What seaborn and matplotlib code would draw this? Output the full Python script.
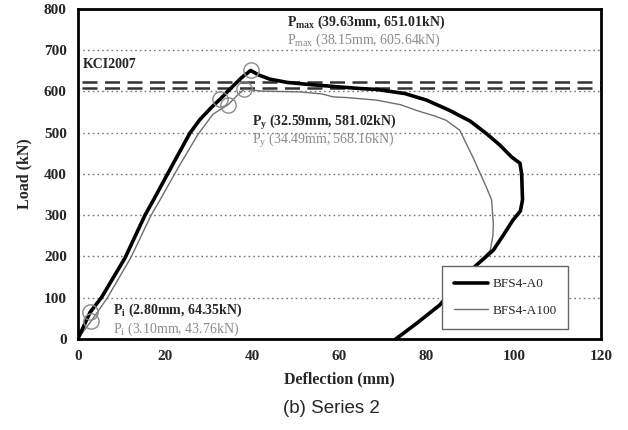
import pandas as pd
import matplotlib
matplotlib.use("Agg")
import matplotlib.pyplot as plt
import seaborn as sns

# load-deflection curve, BFS4-A0
a0_defl = [0, 2.8, 5.4, 10.8, 15.4, 17.3, 21.5, 25.7, 28, 30.5, 32.59, 35, 37.5, 39.63, 41.5,
           44, 48, 53, 60, 65, 68.5, 75, 80, 85.3, 90, 93.7, 96.8, 99.5, 101.4, 101.8, 102,
           101.5, 99.8, 97.5, 95.3, 90.7, 86.5, 83, 78, 73]
a0_load = [0, 64.35, 100, 196, 300, 336, 418, 499, 532, 560, 581.02, 607, 633, 651.01, 640,
           630, 622, 617, 611, 607, 605, 595, 579, 554, 528, 498, 470, 441, 426, 400, 337,
           310, 288, 250, 215, 172, 125, 82, 40, 0]

# load-deflection curve, BFS4-A100
a100_defl = [0, 3.1, 6.8, 12.2, 16.8, 18.8, 23, 27.5, 31, 34.49, 36.5, 38.15, 42, 50.9, 56,
             58.5, 62, 68.5, 74, 77.7, 82, 84.5, 87.6, 90.6, 93.7, 94.9, 95.3, 95.2, 94.9,
             94.6, 90.7, 86.5, 83, 78, 72.5]
a100_load = [0, 43.76, 100, 198, 300, 336, 415, 495, 545, 568.16, 590, 605.64, 601, 599, 594,
             587, 585, 579, 568, 554, 540, 530, 506, 441, 368, 337, 280, 250, 232, 215, 170,
             123, 80, 38, 0]

# key points: (defl, load)
pmax = {"BFS4-A0": (39.63, 651.01), "BFS4-A100": (38.15, 605.64)}
py = {"BFS4-A0": (32.59, 581.02), "BFS4-A100": (34.49, 568.16)}
pi = {"BFS4-A0": (2.80, 64.35), "BFS4-A100": (3.10, 43.76)}
kci_lines = [623, 609]

df = pd.concat([
    pd.DataFrame({"Deflection": a0_defl, "Load": a0_load, "Specimen": "BFS4-A0"}),
    pd.DataFrame({"Deflection": a100_defl, "Load": a100_load, "Specimen": "BFS4-A100"}),
])

sns.set_style("white")
plt.rcParams["font.family"] = ["Liberation Serif", "DejaVu Serif"]
plt.rcParams["mathtext.fontset"] = "custom"
plt.rcParams["mathtext.rm"] = "Liberation Serif:bold"

fig = plt.figure(figsize=(6.28, 4.30), dpi=100)
ax = fig.add_axes([0.124, 0.212, 0.833, 0.767])

for y in range(100, 800, 100):
    ax.axhline(y, color="#777777", lw=1, ls=(0, (1.2, 2.2)), zorder=0)

for y in kci_lines:
    ax.plot([1, 120], [y, y], color="#333333", lw=1.8, ls=(0, (6, 3)), zorder=1)

# gray first so the black curve sits on top
sns.lineplot(data=df[df.Specimen == "BFS4-A100"], x="Deflection", y="Load", sort=False,
             estimator=None, color="#6e6e6e", lw=1.0, ax=ax, label="BFS4-A100", zorder=2)
sns.lineplot(data=df[df.Specimen == "BFS4-A0"], x="Deflection", y="Load", sort=False,
             estimator=None, color="black", lw=2.6, ax=ax, label="BFS4-A0", zorder=3)

for pts in (pmax, py, pi):
    for name, (x, y) in pts.items():
        ax.plot(x, y, "o", ms=11, mfc="none", mec="#8a8a8a", mew=1.0, zorder=4)

ax.text(1.2, 665, "KCI2007", fontsize=10, fontweight="bold", va="center")
gray_txt = "#8a8a8a"
ax.text(48, 767, r"P$_{\mathregular{max}}$ (39.63mm, 651.01kN)", fontsize=10, fontweight="bold", va="center")
ax.text(48, 724, r"P$_{\mathregular{max}}$ (38.15mm, 605.64kN)", fontsize=10, color=gray_txt, va="center")
ax.text(40, 525, r"P$_{\mathregular{y}}$ (32.59mm, 581.02kN)", fontsize=10, fontweight="bold", va="center")
ax.text(40, 482, r"P$_{\mathregular{y}}$ (34.49mm, 568.16kN)", fontsize=10, color=gray_txt, va="center")
ax.text(8, 68, r"P$_{\mathregular{i}}$ (2.80mm, 64.35kN)", fontsize=10, fontweight="bold", va="center")
ax.text(8, 24, r"P$_{\mathregular{i}}$ (3.10mm, 43.76kN)", fontsize=10, color=gray_txt, va="center")

ax.set_xlim(0, 120)
ax.set_ylim(0, 800)
ax.set_xticks(range(0, 121, 20))
ax.set_yticks(range(0, 801, 100))
ax.tick_params(length=0, labelsize=11, pad=8)
for lab in ax.get_xticklabels() + ax.get_yticklabels():
    lab.set_fontweight("bold")
ax.set_xlabel("Deflection (mm)", fontsize=11.5, fontweight="bold", labelpad=6)
ax.set_ylabel("Load (kN)", fontsize=11.5, fontweight="bold", labelpad=8)
for s in ax.spines.values():
    s.set_visible(True)
    s.set_color("black")
    s.set_linewidth(2)

handles, labels = ax.get_legend_handles_labels()
leg = ax.legend(handles[::-1], labels[::-1], loc="lower right", bbox_to_anchor=(0.95, 0.01),
                fancybox=False, edgecolor="#666666", framealpha=1, fontsize=9.5,
                handlelength=2.6, labelspacing=1.1, borderpad=0.9, handletextpad=0.3)
leg.get_frame().set_linewidth(1)

fig.text(0.527, 0.05, "(b) Series 2", fontsize=13.5, family="Liberation Sans", ha="center", va="center")

fig.savefig("out.png", dpi=100)
